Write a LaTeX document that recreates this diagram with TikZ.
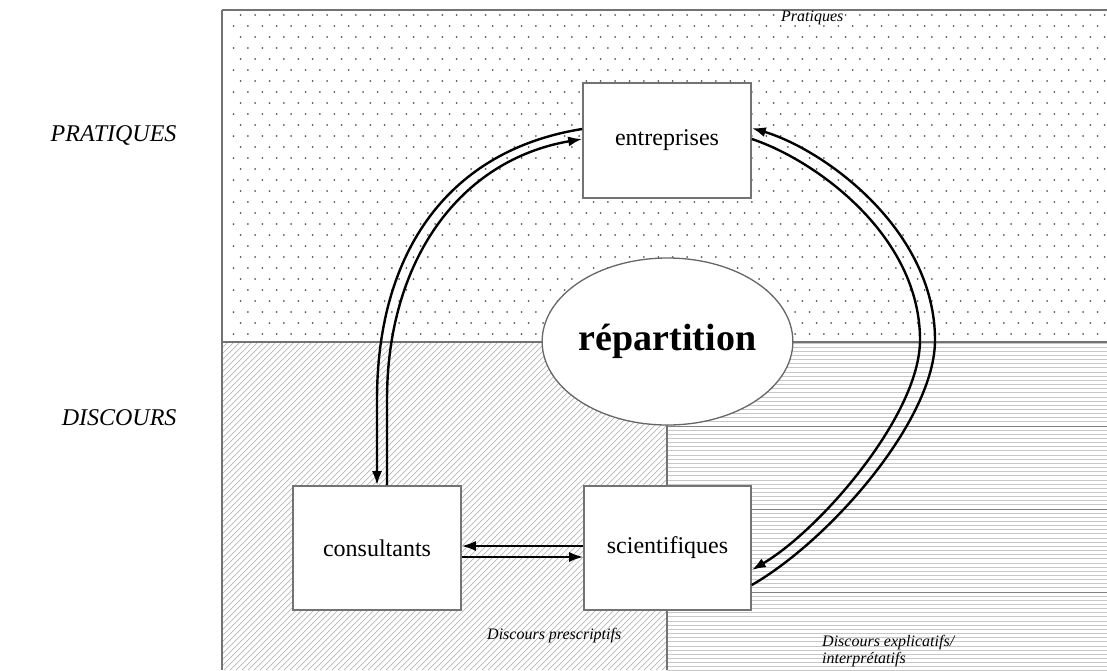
\documentclass[tikz,border=0pt]{standalone}
\usepackage{fontspec}
\setmainfont{Liberation Serif}
\usetikzlibrary{arrows.meta,shapes.geometric}
\begin{document}
\begin{tikzpicture}[x=1pt,y=-1pt,
  box/.style={draw=black!55,line width=1.6pt,fill=white,minimum width=168pt,minimum height=115pt,inner sep=0pt,font=\fontsize{24}{26}\selectfont},
  oval/.style={ellipse,draw=black!60,line width=1.3pt,fill=white,minimum width=223pt,minimum height=167pt,inner sep=0pt,font=\bfseries\fontsize{38}{40}\selectfont},
  link/.style={line width=2.4pt,black},
  tip/.style={-{Latex[length=14pt,width=10pt]}},
  sidelabel/.style={font=\itshape\fontsize{24}{28}\selectfont,anchor=east},
  zonelabel/.style={font=\itshape\fontsize{16}{17}\selectfont,align=left,anchor=west,inner sep=0pt},
  frame/.style={draw=black!55,line width=1.2pt}]
\useasboundingbox (0,0) rectangle (1107,670);
\fill[white] (0,0) rectangle (1107,670);
% dotted zone
\begin{scope}
\clip (222,10) rectangle (1107,342);
\foreach \j in {0,...,29}{
  \pgfmathsetmacro{\yy}{15+11*\j}
  \pgfmathsetmacro{\off}{mod(\j,2)==0 ? 240.7 : 233.5}
  \foreach \i in {0,...,61}{
    \fill[black!65] ({\off+14.4*\i},\yy) circle (1pt);
  }
}
\end{scope}
% hatched zone
\begin{scope}
\clip (222,342) rectangle (667,670);
\foreach \c in {-250,-244,...,670}{
  \draw[black!28,line width=0.7pt] (\c,670) -- ({\c+400},270);
}
\end{scope}
% horizontal-lines zone
\begin{scope}
\clip (667,342) rectangle (1107,670);
\foreach \k in {0,...,80}{
  \draw[black!22,line width=0.9pt] (667,{343+4.15*\k}) -- (1107,{343+4.15*\k});
}
\foreach \yy in {426,509,592}{
  \draw[black!50,line width=0.8pt] (667,\yy) -- (1107,\yy);
}
\end{scope}
% frame lines
\draw[frame] (222,10) -- (1107,10);
\draw[frame] (222,10) -- (222,670);
\draw[frame] (222,342) -- (1107,342);
\draw[frame] (667,342) -- (667,670);
% nodes
\node[box] (ent) at (667,140.5) {entreprises};
\node[box,minimum height=124pt] (cons) at (377,548) {consultants};
\node[box,minimum height=124pt,minimum width=167pt] (sci) at (667.5,548) {scientifiques};
\node[oval] (rep) at (667.5,341.5) {répartition};
% labels
\node[sidelabel] (lp) at (180,135) {PRATIQUES};
\node[sidelabel] (ld) at (180,418) {DISCOURS};
\node[zonelabel] (zp) at (781,18) {Pratiques};
\node[zonelabel] (zd) at (487,636) {Discours prescriptifs};
\node[zonelabel] (ze) at (822,651) {Discours explicatifs/\\interprétatifs};
% left connectors
\draw[link,tip] ([yshift=11.5pt]ent.west) .. controls (450,150) and (377,250) .. (377,400) -- (cons.north);
\draw[link,tip] ([xshift=10pt]cons.north) -- (387,400) .. controls (387,260) and (460,160) .. ([yshift=1.5pt]ent.west);
% right connectors
\draw[link,tip] ([yshift=-37pt]sci.east) .. controls (830,540) and (935,420) .. (935,340) .. controls (935,230) and (825,150) .. ([yshift=12.5pt]ent.east);
\draw[link,tip] ([yshift=1.5pt]ent.east) .. controls (815,160) and (920,235) .. (920,340) .. controls (920,415) and (820,530) .. ([yshift=-22pt]sci.east);
% bottom connectors
\draw[line width=2pt,tip] ([yshift=2pt]sci.west) -- ([yshift=2pt]cons.east);
\draw[line width=2pt,tip] ([yshift=-9pt]cons.east) -- ([yshift=-9pt]sci.west);
\end{tikzpicture}
\end{document}
